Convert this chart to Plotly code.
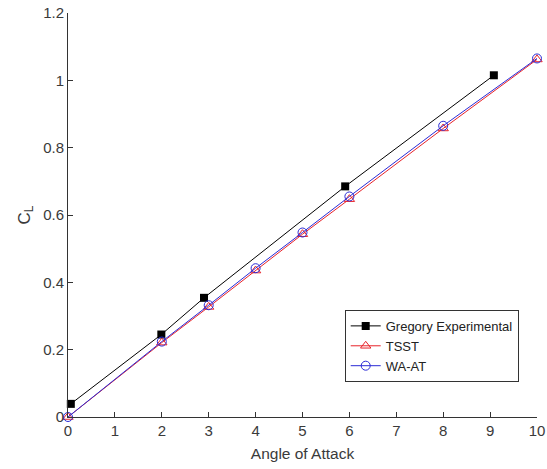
import plotly.graph_objects as go

# Lift coefficient vs angle of attack
greg_aoa = [0.06, 1.99, 2.9, 5.91, 9.08]
greg_cl = [0.039, 0.245, 0.354, 0.685, 1.015]

sim_aoa = [0, 2, 3, 4, 5, 6, 8, 10]
tsst_cl = [0, 0.221, 0.327, 0.435, 0.543, 0.647, 0.857, 1.062]
waat_cl = [0, 0.224, 0.332, 0.442, 0.548, 0.655, 0.865, 1.065]

x_ticks = list(range(0, 11))
y_ticks = [0, 0.2, 0.4, 0.6, 0.8, 1, 1.2]
y_tick_text = ["0", "0.2", "0.4", "0.6", "0.8", "1", "1.2"]

fig = go.Figure()
fig.add_trace(go.Scatter(
    x=greg_aoa, y=greg_cl, name="Gregory Experimental", mode="lines+markers",
    line=dict(color="black", width=1),
    marker=dict(symbol="square", size=8, color="black"),
    cliponaxis=False,
))
fig.add_trace(go.Scatter(
    x=sim_aoa, y=tsst_cl, name="TSST", mode="lines+markers",
    line=dict(color="#e8232a", width=1),
    marker=dict(symbol="triangle-up-open", size=9, color="#e8232a", line=dict(width=1)),
    cliponaxis=False,
))
fig.add_trace(go.Scatter(
    x=sim_aoa, y=waat_cl, name="WA-AT", mode="lines+markers",
    line=dict(color="#2b2bd6", width=1),
    marker=dict(symbol="circle-open", size=9, color="#2b2bd6", line=dict(width=1)),
    cliponaxis=False,
))

axis_font = dict(family="Liberation Sans, Arial, sans-serif", size=15, color="#3a3a3a")

fig.update_layout(
    width=547, height=469,
    margin=dict(l=68, r=10, t=13, b=52),
    paper_bgcolor="white", plot_bgcolor="white",
    font=axis_font,
    showlegend=True,
    legend=dict(
        x=0.59, y=0.265, xanchor="left", yanchor="top",
        bordercolor="#333333", borderwidth=1, bgcolor="white",
        font=dict(family="Liberation Sans, Arial, sans-serif", size=13, color="#222222"),
        tracegroupgap=0, itemwidth=30,
    ),
    xaxis=dict(
        range=[0, 10], tickvals=x_ticks, ticks="inside", ticklen=5,
        tickcolor="#333333", showline=True, linecolor="#333333", linewidth=1,
        showgrid=False, zeroline=False, mirror=False, automargin=False,
        title=dict(text="Angle of Attack", standoff=10,
                   font=dict(family="Liberation Sans, Arial, sans-serif", size=15.5, color="#3a3a3a")),
        tickfont=axis_font,
    ),
    yaxis=dict(
        range=[0, 1.2], tickvals=y_ticks, ticktext=y_tick_text, ticks="inside", ticklen=5,
        tickcolor="#333333", showline=True, linecolor="#333333", linewidth=1,
        showgrid=False, zeroline=False, mirror=False, automargin=False,
        title=dict(text="C<sub>L</sub>", standoff=8, font=dict(family="Liberation Sans, Arial, sans-serif", size=17, color="#3a3a3a")),
        tickfont=axis_font,
    ),
)

fig.write_html("out.html")
